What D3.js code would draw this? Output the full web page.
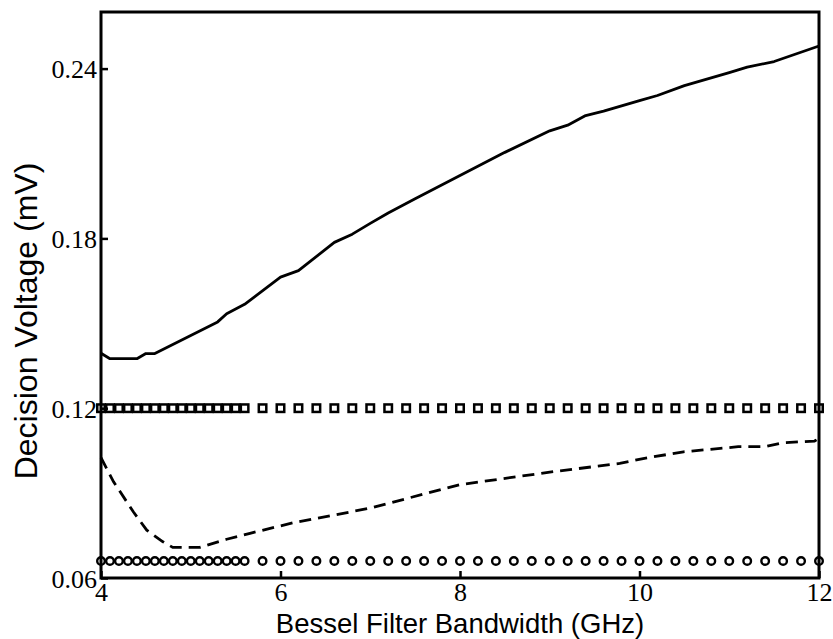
<!DOCTYPE html>
<html>
<head>
<meta charset="utf-8">
<script src="https://cdn.jsdelivr.net/npm/d3@7"></script>
<style>
  html, body { margin: 0; padding: 0; background: #fff; }
  svg { display: block; }
</style>
</head>
<body>
<svg id="chart" width="833" height="639"></svg>
<script>
// Decision voltage versus Bessel filter bandwidth

// Axis ticks
const xTicks = [4, 6, 8, 10, 12];
const yTicks = [0.06, 0.12, 0.18, 0.24];

// Upper threshold curve (solid)
const solidX = [4.0, 4.1, 4.4, 4.5, 4.6, 5.3, 5.4, 5.6, 6.0, 6.2, 6.6, 6.8, 7.0, 7.2, 7.5, 8.0, 8.5, 9.0, 9.2, 9.4, 9.6, 10.0, 10.2, 10.5, 11.0, 11.2, 11.5, 12.0];
const solidY = [0.1394, 0.1375, 0.1375, 0.1393, 0.1393, 0.1505, 0.1534, 0.1567, 0.1663, 0.1686, 0.1786, 0.1815, 0.1853, 0.189, 0.194, 0.2022, 0.2104, 0.218, 0.220, 0.2234, 0.225, 0.2287, 0.2305, 0.234, 0.2386, 0.2405, 0.2425, 0.248];

// Lower threshold curve (dashed)
const dashX = [4.0, 4.14, 4.36, 4.51, 4.69, 4.8, 5.1, 5.4, 5.66, 6.14, 7.0, 8.0, 9.0, 9.78, 10.04, 10.49, 10.9, 11.1, 11.4, 11.6, 11.95, 12.0];
const dashY = [0.1025, 0.094, 0.0834, 0.0769, 0.0728, 0.0708, 0.0708, 0.0737, 0.0758, 0.0795, 0.0847, 0.0930, 0.0974, 0.1005, 0.1022, 0.1046, 0.1058, 0.1064, 0.1064, 0.1078, 0.1084, 0.1093];

// Fixed thresholds sampled along the bandwidth axis
const markerX = [4.0, 4.1, 4.2, 4.3, 4.4, 4.5, 4.6, 4.7, 4.8, 4.9, 5.0, 5.1, 5.2, 5.3, 5.4, 5.5, 5.6,
                 5.8, 6.0, 6.2, 6.4, 6.6, 6.8, 7.0, 7.2, 7.4, 7.6, 7.8, 8.0, 8.2, 8.4, 8.6, 8.8,
                 9.0, 9.2, 9.4, 9.6, 9.8, 10.0, 10.2, 10.4, 10.6, 10.8, 11.0, 11.2, 11.4, 11.6, 11.8, 12.0];
const squareLevel = 0.12;
const circleLevel = 0.066;

const W = 833, H = 639;
const margin = { top: 12, right: 14, bottom: 61, left: 101 };

const svg = d3.select("#chart");

const x = d3.scaleLinear().domain([4, 12]).range([margin.left, W - margin.right]);
const y = d3.scaleLinear().domain([0.06, 0.26]).range([H - margin.bottom, margin.top]);

const serif = "'Liberation Serif', 'Times New Roman', serif";
const sans = "'Liberation Sans', Arial, Helvetica, sans-serif";

// Curves
const line = d3.line().x(d => x(d[0])).y(d => y(d[1]));

svg.append("path")
  .datum(d3.zip(solidX, solidY))
  .attr("d", line)
  .attr("fill", "none")
  .attr("stroke", "#000")
  .attr("stroke-width", 2.8)
  .attr("stroke-linejoin", "round");

svg.append("path")
  .datum(d3.zip(dashX, dashY))
  .attr("d", line)
  .attr("fill", "none")
  .attr("stroke", "#000")
  .attr("stroke-width", 2.8)
  .attr("stroke-dasharray", "12,7");

// Square markers
const sq = 7.5;
svg.append("g").selectAll("rect")
  .data(markerX)
  .join("rect")
  .attr("x", d => x(d) - sq / 2)
  .attr("y", y(squareLevel) - sq / 2)
  .attr("width", sq)
  .attr("height", sq)
  .attr("fill", "none")
  .attr("stroke", "#000")
  .attr("stroke-width", 2.5);

// Circle markers
svg.append("g").selectAll("circle")
  .data(markerX)
  .join("circle")
  .attr("cx", d => x(d))
  .attr("cy", y(circleLevel))
  .attr("r", 3.8)
  .attr("fill", "none")
  .attr("stroke", "#000")
  .attr("stroke-width", 2.4);

// Axes with inward ticks
const xAxis = svg.append("g")
  .attr("transform", `translate(0,${H - margin.bottom})`)
  .call(d3.axisBottom(x).tickValues(xTicks).tickFormat(d3.format("d")).tickSizeInner(-7).tickSizeOuter(0).tickPadding(5));

const yAxis = svg.append("g")
  .attr("transform", `translate(${margin.left},0)`)
  .call(d3.axisLeft(y).tickValues(yTicks).tickFormat(d3.format(".2f")).tickSizeInner(-7).tickSizeOuter(0).tickPadding(4));

[xAxis, yAxis].forEach(g => {
  g.select(".domain").remove();
  g.selectAll(".tick line").attr("stroke", "#000").attr("stroke-width", 2.5);
  g.selectAll(".tick text")
    .attr("fill", "#000")
    .style("font-family", serif)
    .style("font-size", "26px");
});
yAxis.selectAll(".tick text").attr("dy", "0.35em");

// Box
svg.append("rect")
  .attr("x", margin.left)
  .attr("y", margin.top)
  .attr("width", W - margin.left - margin.right)
  .attr("height", H - margin.top - margin.bottom)
  .attr("fill", "none")
  .attr("stroke", "#000")
  .attr("stroke-width", 3);

// Axis titles
svg.append("text")
  .attr("x", (margin.left + W - margin.right) / 2)
  .attr("y", 632.5)
  .attr("text-anchor", "middle")
  .style("font-family", sans)
  .style("font-size", "27.5px")
  .text("Bessel Filter Bandwidth (GHz)");

svg.append("text")
  .attr("transform", "translate(37,321) rotate(-90)")
  .attr("text-anchor", "middle")
  .style("font-family", sans)
  .style("font-size", "32px")
  .text("Decision Voltage (mV)");
</script>
</body>
</html>
